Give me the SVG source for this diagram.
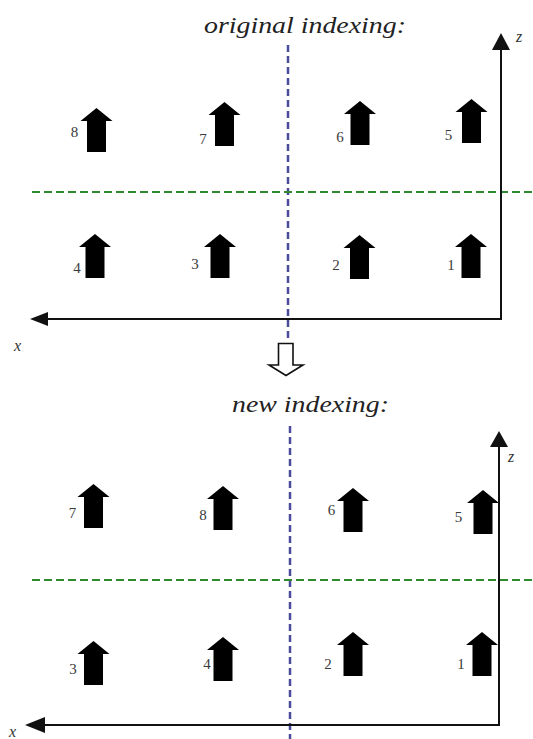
<svg xmlns="http://www.w3.org/2000/svg" width="533" height="739" viewBox="0 0 533 739">
  <style>
    .title { font-family: "Liberation Serif", "DejaVu Serif", serif; font-style: italic; font-size: 24px; fill: #222; }
    .axislbl { font-family: "Liberation Serif", "DejaVu Serif", serif; font-style: italic; font-size: 16px; fill: #333; }
    .num { font-family: "Liberation Serif", "DejaVu Serif", serif; font-size: 15px; fill: #3a3a3a; text-anchor: middle; }
    .axis { stroke: #111; stroke-width: 2; fill: none; }
    .vdiv { stroke: #4b4b9c; stroke-width: 2.5; stroke-dasharray: 7 4; fill: none; }
    .hdiv { stroke: #2f8a2f; stroke-width: 2; stroke-dasharray: 8 4; fill: none; }
    .head { fill: #111; }
  </style>
  <defs>
    <!-- block arrow, tip at origin, 44 tall -->
    <path id="spin" d="M0,0 L16,13 L9.5,13 L9.5,44 L-9.5,44 L-9.5,13 L-16,13 Z" fill="#000"/>
  </defs>

  <rect width="533" height="739" fill="#fff"/>

  <!-- upper panel -->
  <text class="title" x="204" y="33" textLength="202" lengthAdjust="spacingAndGlyphs">original indexing:</text>

  <g id="dividers-top">
    <line class="vdiv" x1="288" y1="45" x2="288" y2="342"/>
    <line class="hdiv" x1="32" y1="192" x2="533" y2="192"/>
  </g>

  <g id="axes-top">
    <polyline class="axis" points="501,49 501,319 46,319"/>
    <polygon class="head" points="501,33 510,50 492,50"/>
    <polygon class="head" points="30,319 48,312 48,326"/>
    <text class="axislbl" x="516" y="42">z</text>
    <text class="axislbl" x="14" y="351">x</text>
  </g>

  <g id="top-8"><use href="#spin" x="96.5" y="108"/><text class="num" x="74.5" y="137">8</text></g>
  <g id="top-7"><use href="#spin" x="224.5" y="102"/><text class="num" x="203" y="144">7</text></g>
  <g id="top-6"><use href="#spin" x="360" y="101"/><text class="num" x="340" y="142">6</text></g>
  <g id="top-5"><use href="#spin" x="471.5" y="99"/><text class="num" x="448.5" y="140">5</text></g>
  <g id="top-4"><use href="#spin" x="95" y="234"/><text class="num" x="77" y="273">4</text></g>
  <g id="top-3"><use href="#spin" x="220" y="234"/><text class="num" x="195" y="269">3</text></g>
  <g id="top-2"><use href="#spin" x="359.5" y="235"/><text class="num" x="336" y="270">2</text></g>
  <g id="top-1"><use href="#spin" x="471" y="234"/><text class="num" x="451" y="270">1</text></g>

  <!-- transition arrow -->
  <g id="reindex-arrow">
    <path d="M278.5,343.5 L293,343.5 L293,365 L303,365 L286,375.5 L269,365 L278.5,365 Z" fill="#fff" stroke="#111" stroke-width="1.6" stroke-linejoin="miter"/>
  </g>

  <!-- lower panel -->
  <text class="title" x="232" y="412" textLength="157" lengthAdjust="spacingAndGlyphs">new indexing:</text>

  <g id="dividers-bottom">
    <line class="vdiv" x1="290" y1="426" x2="290" y2="739"/>
    <line class="hdiv" x1="32" y1="580" x2="533" y2="580"/>
  </g>

  <g id="axes-bottom">
    <polyline class="axis" points="499,446 499,725 44,725"/>
    <polygon class="head" points="499,431 508,447 490,447"/>
    <polygon class="head" points="25,725 45,717 45,733"/>
    <text class="axislbl" x="508" y="462">z</text>
    <text class="axislbl" x="9" y="737">x</text>
  </g>

  <g id="new-7"><use href="#spin" x="93.5" y="484"/><text class="num" x="72.5" y="518">7</text></g>
  <g id="new-8"><use href="#spin" x="223" y="486"/><text class="num" x="203" y="520">8</text></g>
  <g id="new-6"><use href="#spin" x="353" y="488"/><text class="num" x="331.5" y="515">6</text></g>
  <g id="new-5"><use href="#spin" x="483" y="490"/><text class="num" x="458.5" y="522">5</text></g>
  <g id="new-3"><use href="#spin" x="93.5" y="641"/><text class="num" x="73" y="674">3</text></g>
  <g id="new-4"><use href="#spin" x="223" y="637"/><text class="num" x="207" y="669">4</text></g>
  <g id="new-2"><use href="#spin" x="353" y="632"/><text class="num" x="328" y="669">2</text></g>
  <g id="new-1"><use href="#spin" x="482" y="632"/><text class="num" x="461" y="669">1</text></g>
</svg>
